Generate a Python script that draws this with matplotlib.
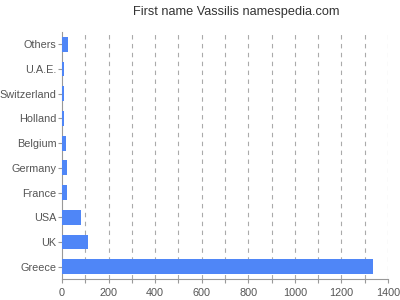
import matplotlib
matplotlib.use("Agg")
import matplotlib.pyplot as plt
import numpy as np

countries = ["Greece", "UK", "USA", "France", "Germany", "Belgium", "Holland", "Switzerland", "U.A.E.", "Others"]
values = [1335, 110, 80, 23, 23, 17, 10, 10, 8, 27]
xticks = [0, 200, 400, 600, 800, 1000, 1200, 1400]

plt.rcParams['font.family'] = ['Liberation Sans', 'DejaVu Sans']
fig = plt.figure(figsize=(4, 3), dpi=100)
ax = fig.add_axes([62/400, 21/300, 326/400, 247/300])

y = np.arange(len(countries))
ax.barh(y, values, height=0.6, color="#4f86f7", zorder=3)
ax.set_ylim(-0.5, len(countries) - 0.5)
ax.set_xlim(0, 1400)
ax.set_yticks(y)
ax.set_yticklabels(countries)
ax.set_xticks(xticks)
ax.set_xticks(np.arange(0, 1401, 100), minor=True)
for v in np.arange(100, 1401, 100):
    ax.axvline(v, color="#aaaaaa", linestyle=(0, (4, 4)), linewidth=0.8, zorder=1)

for s in ["top", "right"]:
    ax.spines[s].set_visible(False)
for s in ["left", "bottom"]:
    ax.spines[s].set_color("#999999")
    ax.spines[s].set_linewidth(0.8)
ax.tick_params(axis="both", colors="#999999", labelcolor="#555555", labelsize=7.8, length=3, width=0.8)
ax.tick_params(axis="x", which="minor", colors="#999999", length=3, width=0.8)
ax.tick_params(axis="y", pad=1)

fig.text(0.59, 0.96, "First name Vassilis namespedia.com", ha="center", va="center", fontsize=9.2, color="#333333")
fig.savefig("out.png", dpi=100)
